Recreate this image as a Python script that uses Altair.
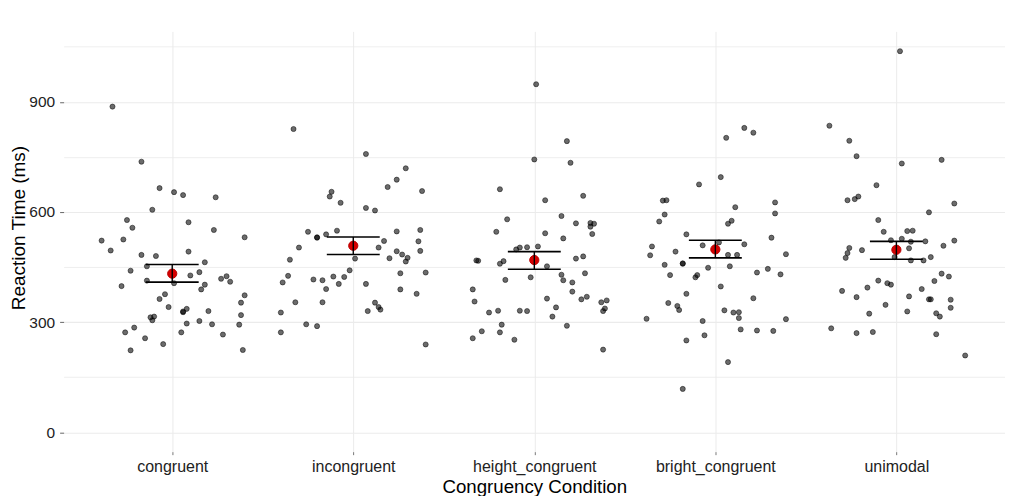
import altair as alt
import pandas as pd

categories = ["congruent", "incongruent", "height_congruent", "bright_congruent", "unimodal"]

# reaction times (ms) and horizontal jitter (category units)
congruent_rt = [887, 737, 665, 654, 646, 640, 606, 578, 557, 572, 551, 531, 522, 525, 495, 483, 480, 492,
                463, 452, 440, 427, 436, 418, 425, 410, 413, 406, 402, 389, 398, 376, 363, 373, 353, 341,
                336, 327, 329, 330, 319, 313, 315, 305, 296, 303, 294, 293, 285, 272, 272, 266, 256, 240,
                223, 224]
congruent_jit = [-0.33, -0.17, -0.07, 0.01, 0.06, 0.24, -0.11, -0.25, -0.22, 0.09, 0.23, 0.40, -0.39, -0.27,
                 -0.34, -0.17, -0.09, 0.09, 0.18, -0.14, -0.23, 0.10, 0.15, 0.27, 0.30, 0.32, -0.14, 0.01,
                 0.18, 0.16, -0.28, -0.04, -0.07, 0.40, 0.38, -0.02, 0.08, 0.06, 0.06, 0.20, 0.38, -0.12,
                 -0.10, -0.11, 0.08, 0.15, 0.22, 0.37, -0.21, -0.26, 0.05, 0.28, -0.15, -0.05, -0.23, 0.39]

incongruent_rt = [826, 758, 719, 688, 668, 657, 655, 642, 625, 611, 604, 546, 539, 530, 531, 549, 547, 551,
                  521, 520, 503, 503, 493, 494, 484, 475, 465, 474, 473, 470, 441, 423, 424, 433, 435, 426,
                  408, 416, 414, 404, 404, 390, 389, 377, 354, 354, 353, 341, 334, 330, 326, 294, 289, 272,
                  239]
incongruent_jit = [-0.33, 0.07, 0.29, 0.24, 0.19, 0.38, -0.12, -0.13, -0.07, 0.07, 0.12, -0.25, -0.15, -0.20,
                   -0.20, -0.09, 0.24, 0.37, 0.17, 0.36, -0.30, 0.14, 0.24, 0.37, 0.27, 0.30, 0.29, 0.20,
                   0.01, -0.35, -0.02, -0.05, -0.11, 0.26, 0.40, -0.36, -0.39, -0.22, -0.17, -0.08, 0.07,
                   -0.15, 0.26, 0.35, -0.32, -0.17, 0.12, 0.14, 0.15, 0.08, -0.40, -0.26, -0.20, -0.40, 0.40]

height_rt = [948, 793, 743, 734, 662, 644, 632, 580, 589, 569, 570, 568, 560, 540, 546, 542, 528, 498, 503,
             504, 506, 467, 468, 459, 466, 473, 479, 452, 429, 414, 408, 433, 422, 415, 389, 383, 356, 364,
             362, 369, 354, 359, 337, 330, 326, 331, 331, 330, 340, 315, 293, 290, 275, 272, 256, 252, 225]
height_jit = [0.01, 0.18, 0.00, 0.20, -0.19, 0.27, 0.06, -0.15, 0.15, 0.23, 0.31, 0.33, 0.31, 0.32, -0.21,
              0.06, 0.16, -0.10, -0.08, -0.04, 0.02, -0.31, -0.32, -0.19, -0.17, 0.23, 0.27, 0.07, 0.15,
              0.16, 0.21, 0.28, -0.02, -0.16, -0.34, 0.21, -0.33, 0.07, 0.26, 0.29, 0.37, 0.40, 0.39, 0.38,
              -0.25, -0.20, -0.08, -0.04, 0.12, 0.10, -0.18, 0.18, -0.29, -0.19, -0.34, -0.11, 0.38]

bright_rt = [829, 816, 802, 695, 675, 631, 632, 626, 613, 596, 593, 574, 568, 576, 539, 530, 517, 512, 509,
             506, 492, 482, 483, 483, 485, 459, 460, 456, 448, 452, 445, 435, 430, 428, 428, 422, 397, 377,
             365, 352, 344, 333, 332, 326, 327, 311, 309, 308, 303, 280, 277, 276, 264, 250, 191, 118]
bright_jit = [0.16, 0.21, 0.06, 0.03, -0.09, -0.29, -0.27, 0.33, 0.11, 0.33, -0.28, -0.31, 0.07, 0.09, -0.16,
              0.31, 0.02, 0.16, -0.07, -0.35, -0.22, -0.36, 0.07, 0.12, 0.39, -0.18, -0.18, -0.28, -0.04,
              0.08, 0.29, 0.23, 0.36, -0.25, -0.10, -0.11, 0.03, -0.16, 0.21, -0.26, -0.21, -0.20, 0.05,
              0.10, 0.13, 0.13, -0.38, 0.39, -0.07, 0.14, 0.23, 0.32, -0.06, -0.16, 0.07, -0.18]

unimodal_rt = [1038, 835, 794, 752, 732, 742, 673, 632, 635, 642, 623, 599, 578, 546, 548, 549, 527, 523,
               519, 520, 522, 508, 502, 496, 501, 488, 475, 477, 468, 468, 477, 432, 424, 412, 413, 406, 402,
               394, 385, 390, 370, 368, 362, 362, 361, 339, 347, 329, 323, 324, 315, 283, 270, 273, 267, 209]
unimodal_jit = [0.02, -0.37, -0.26, -0.22, 0.03, 0.25, -0.11, -0.27, -0.23, -0.21, 0.32, 0.18, -0.10, -0.07,
                0.06, 0.09, 0.03, -0.03, 0.08, 0.16, 0.32, 0.26, -0.26, -0.19, 0.07, -0.27, -0.28, -0.01,
                0.08, 0.15, 0.19, 0.25, 0.29, 0.21, -0.10, -0.05, -0.03, -0.16, -0.30, 0.14, 0.07, -0.22,
                0.18, 0.19, 0.30, 0.30, -0.06, 0.06, -0.15, 0.22, 0.24, -0.36, -0.22, -0.13, 0.22, 0.38]

mean_rt = [432, 508, 469, 498, 497]
upper_rt = [457, 532, 492, 523, 520]
lower_rt = [409, 484, 444, 475, 471]

y_major = [0, 300, 600, 900]
y_all_grid = [0, 150, 300, 450, 600, 750, 900, 1050]

series = [(congruent_rt, congruent_jit), (incongruent_rt, incongruent_jit), (height_rt, height_jit),
          (bright_rt, bright_jit), (unimodal_rt, unimodal_jit)]
rows = []
for i, (vals, jits) in enumerate(series):
    for v, j in zip(vals, jits):
        rows.append({"idx": i, "jit": j, "rt": v})
points = pd.DataFrame(rows)
summary = pd.DataFrame({"idx": list(range(len(categories))), "mean": mean_rt,
                        "lo": lower_rt, "hi": upper_rt})

FONT = "Liberation Sans"
label_expr = "[" + ",".join("'%s'" % c for c in categories) + "][datum.value]"
is_major = "indexof(%s, datum.value) >= 0" % str(y_major)

xscale = alt.Scale(domain=[-0.6, 4.6], nice=False, zero=False)
yscale = alt.Scale(domain=[-53, 1092], nice=False, zero=False)

xaxis = alt.Axis(values=list(range(len(categories))), labelExpr=label_expr, grid=True,
                 gridColor="#ebebeb", gridWidth=1, ticks=True, tickSize=3, tickColor="#777",
                 domain=False, labelFont=FONT, labelFontSize=16, labelColor="#222",
                 labelBaseline="alphabetic", labelPadding=17, title="Congruency Condition",
                 titleFont=FONT, titleFontSize=18.7, titleFontWeight="normal", titleColor="black",
                 titleBaseline="alphabetic", titleY=41, titleX=471.5, titleAlign="center")
yaxis = alt.Axis(values=y_all_grid, labelExpr="%s ? datum.label : ''" % is_major,
                 grid=True, gridColor="#ebebeb",
                 gridWidth=alt.condition(is_major, alt.value(1.1), alt.value(0.8)),
                 ticks=True, tickSize=4,
                 tickColor=alt.condition(is_major, alt.value("#666"), alt.value("transparent")),
                 domain=False, labelFont=FONT, labelFontSize=15.5, labelColor="#222", labelPadding=5,
                 title="Reaction Time (ms)", titleFont=FONT, titleFontSize=19, titleFontWeight="normal",
                 titleColor="black", titleAngle=270, titleBaseline="alphabetic", titleAlign="center",
                 titleX=-39, titleY=196.5)

pts = alt.Chart(points).transform_calculate(xpos="datum.idx + datum.jit").mark_point(
    shape="circle", filled=True, fill="black", stroke="black", fillOpacity=0.58, strokeOpacity=0.6,
    strokeWidth=0.8, size=26, opacity=1
).encode(
    x=alt.X("xpos:Q", scale=xscale, axis=xaxis),
    y=alt.Y("rt:Q", scale=yscale, axis=yaxis),
)

means = alt.Chart(summary).mark_point(
    shape="circle", filled=True, fill="#d60000", stroke="#b80000", strokeWidth=1, size=85, opacity=1
).encode(x=alt.X("idx:Q", scale=xscale), y=alt.Y("mean:Q", scale=yscale))

stem = alt.Chart(summary).mark_rule(color="black", strokeWidth=1.4).encode(
    x=alt.X("idx:Q", scale=xscale), y=alt.Y("lo:Q", scale=yscale), y2="hi:Q")
cap_lo = alt.Chart(summary).mark_tick(orient="horizontal", size=53, thickness=1.6, color="black", opacity=1).encode(
    x=alt.X("idx:Q", scale=xscale), y=alt.Y("lo:Q", scale=yscale))
cap_hi = alt.Chart(summary).mark_tick(orient="horizontal", size=53, thickness=1.6, color="black", opacity=1).encode(
    x=alt.X("idx:Q", scale=xscale), y=alt.Y("hi:Q", scale=yscale))

chart = alt.layer(pts, means, stem, cap_lo, cap_hi).properties(
    width=943, height=421,
    padding={"left": 55.7, "top": 23, "right": 0, "bottom": 44},
    autosize=alt.AutoSizeParams(type="none"),
    background="white",
).configure_view(stroke=None)

chart.save("out.html", embed_options={"renderer": "svg", "actions": False})
